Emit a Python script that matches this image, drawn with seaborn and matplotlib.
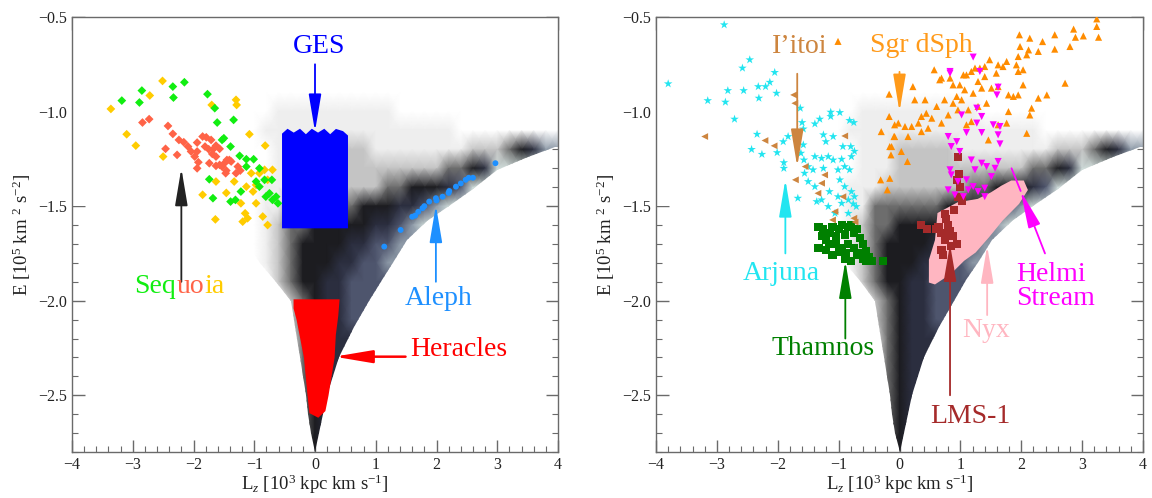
import numpy as np
import pandas as pd
import matplotlib
matplotlib.use("Agg")
import matplotlib.pyplot as plt
import seaborn as sns
from matplotlib.colors import LinearSegmentedColormap
from matplotlib.patches import Polygon
from matplotlib.ticker import MultipleLocator
from matplotlib.transforms import offset_copy

# ---------------- background density ----------------
LZ_KNOTS = np.linspace(-4.0, 4.0, 41)          # 0.2 steps
E_KNOTS = np.linspace(-0.5, -2.8, 24)          # 0.1 steps, top to bottom
DENSITY_RLE = [
    "41:0",
    "14:0 23:1 4:0",
    "12:0 25:1 4:0",
    "12:0 26:1 3:0",
    "13:0 25:1 3:0",
    "14:0 3:1 10:2 10:1 4:0",
    "13:0 3:1 16:2 6:1 3:0",
    "13:0 4:1 3:2 5:3 8:2 3:3 1:4 1:5 1:6 2:8",
    "13:0 4:1 3:2 11:3 2:4 1:5 1:6 6:9",
    "12:0 4:1 3:2 7:3 2:4 3:5 1:6 1:7 8:9",
    "12:0 4:1 2:2 6:4 3:5 2:6 1:7 1:8 10:9",
    "13:0 3:1 1:2 1:3 2:4 5:5 2:6 1:7 1:8 12:9",
    "14:0 2:1 1:2 1:3 1:4 4:5 2:6 2:7 14:8",
    "15:0 1:1 1:2 1:3 1:4 3:5 2:6 2:7 15:8",
    "16:0 1:1 1:3 1:4 2:5 2:6 18:7",
    "17:0 1:1 1:3 1:4 1:5 2:6 18:7",
    "18:0 1:3 1:4 1:5 2:6 18:7",
    "18:0 1:2 1:4 1:5 20:6",
    "18:0 1:1 1:4 1:5 20:6",
    "19:0 1:4 1:5 20:6",
    "19:0 1:4 1:5 20:6",
    "19:0 1:4 1:5 20:6",
    "19:0 1:4 1:5 20:6",
    "19:0 2:5 20:6",
]
LEVEL_COLORS = ["#ffffff", "#ffffff", "#eeeeee", "#c4c4c4", "#6c6c6c",
                "#1c1c20", "#2b2e3f", "#4d536c", "#8c98a6", "#cfdbd9"]

# circular-orbit envelope (right edge of the distribution)
ENV_LZ = [0.0, 0.07, 0.2, 0.4, 0.65, 0.89, 1.1, 1.3, 1.52, 1.85, 2.2, 2.6, 3.0, 3.5, 3.95]
ENV_E = [-2.8, -2.7, -2.5, -2.3, -2.14, -2.0, -1.89, -1.79, -1.68, -1.58, -1.50, -1.41, -1.31, -1.24, -1.19]
# left edge of the dense funnel (top to bottom)
EDGE_LZ = [-1.6, -1.3, -1.1, -0.9, -0.64, -0.4, -0.35, -0.3, -0.25, -0.2, -0.15, -0.12, -0.07, 0.0]
EDGE_E = [-1.5, -1.6, -1.7, -1.8, -1.9, -2.0, -2.1, -2.2, -2.3, -2.4, -2.5, -2.6, -2.7, -2.8]

# ---------------- left panel groups ----------------
GES_LZ = [-0.52, -0.52, -0.45, -0.35, -0.25, -0.15, -0.05, 0.05, 0.15, 0.25, 0.35, 0.45, 0.52, 0.52]
GES_E = [-1.61, -1.12, -1.10, -1.12, -1.10, -1.13, -1.10, -1.12, -1.10, -1.13, -1.10, -1.11, -1.13, -1.61]

HER_LZ = [-0.33, 0.38, 0.36, 0.32, 0.30, 0.25, 0.20, 0.15, 0.05, -0.07, -0.10, -0.13, -0.16, -0.22, -0.28, -0.33]
HER_E = [-2.0, -2.0, -2.08, -2.18, -2.30, -2.40, -2.50, -2.58, -2.61, -2.59, -2.50, -2.40, -2.30, -2.20, -2.10, -2.04]

ALEPH_LZ = [1.14, 1.41, 1.60, 1.77, 1.88, 1.99, 2.10, 2.21, 2.32, 2.48, 2.53, 2.97, 1.65, 1.70, 1.80, 2.00, 2.20, 2.40, 2.60]
ALEPH_E = [-1.714, -1.626, -1.556, -1.511, -1.476, -1.458, -1.45, -1.42, -1.397, -1.361, -1.35, -1.273,
           -1.55, -1.53, -1.50, -1.47, -1.43, -1.38, -1.35]

SEQ_GOLD_LZ = [-3.36, -3.10, -2.95, -2.72, -2.51, -2.50, -1.70, -1.30, -1.29, -1.08, -0.82, -1.85, -1.63,
               -1.64, -1.46, -1.33, -1.22, -1.15, -1.13, -1.05, -1.02, -0.97, -0.915, -0.83, -0.78, -0.86,
               -0.97, -1.19, -1.11, -0.78, -0.70]
SEQ_GOLD_E = [-0.986, -1.12, -1.18, -0.915, -0.838, -1.238, -0.965, -0.938, -0.965, -1.12, -1.18, -1.44,
              -1.37, -1.57, -1.43, -1.37, -1.485, -1.538, -1.397, -1.326, -1.423, -1.485, -1.326, -1.308,
              -1.361, -1.555, -1.388, -1.582, -1.564, -1.60, -1.308]
SEQ_GREEN_LZ = [-3.18, -2.89, -2.85, -2.34, -2.33, -2.15, -1.77, -1.65, -1.61, -1.34, -1.53, -1.50, -1.39,
                -1.24, -1.13, -1.01, -0.97, -0.915, -0.83, -0.81, -0.75, -0.70, -0.64, -0.61, -1.68, -1.39,
                -1.31, -1.74, -1.13, -0.915, -0.71, -1.22]
SEQ_GREEN_E = [-0.942, -0.952, -0.889, -0.868, -0.926, -0.845, -0.908, -0.982, -1.058, -1.044, -1.15, -1.141,
               -1.185, -1.234, -1.252, -1.252, -1.37, -1.397, -1.361, -1.45, -1.432, -1.467, -1.45, -1.485,
               -1.458, -1.476, -1.467, -1.358, -1.291, -1.30, -1.361, -1.423]
SEQ_RED_LZ = [-2.84, -2.73, -2.42, -2.34, -2.46, -2.27, -2.24, -2.16, -2.09, -2.04, -1.94, -1.94, -1.92,
              -1.94, -1.85, -1.79, -1.71, -1.81, -1.75, -1.63, -1.57, -1.69, -1.63, -1.63, -1.57, -1.53,
              -1.49, -1.45, -1.41, -1.38, -1.46, -1.47, -1.30, -1.27, -1.23, -1.74, -1.67, -1.98]
SEQ_RED_E = [-1.058, -1.04, -1.076, -1.118, -1.197, -1.229, -1.15, -1.162, -1.185, -1.211, -1.164, -1.211,
             -1.268, -1.30, -1.132, -1.136, -1.15, -1.185, -1.199, -1.18, -1.197, -1.224, -1.238, -1.287,
             -1.282, -1.291, -1.273, -1.256, -1.256, -1.264, -1.312, -1.326, -1.326, -1.291, -1.312,
             -1.273, -1.197, -1.238]

# ---------------- right panel groups ----------------
ARJ_LZ = [-2.88, -3.80, -3.15, -2.86, -2.82, -2.58, -2.46, -2.56, -2.32, -2.31, -2.20, -2.13, -2.05, -2.02,
          -2.71, -2.34, -2.43, -2.26, -2.01, -1.91, -1.83, -1.90, -1.90, -1.63, -1.60, -1.58, -1.58, -1.62,
          -1.57, -1.56, -1.39, -1.31, -1.13, -0.98, -1.13, -0.82, -0.75, -1.25, -1.21, -1.09, -0.93, -0.80,
          -0.74, -1.39, -1.28, -1.17, -1.09, -0.95, -0.79, -1.50, -1.42, -1.25, -1.01, -0.90, -0.82, -1.50,
          -1.39, -1.15, -0.98, -0.90, -0.79, -0.74, -1.67, -1.36, -1.28, -1.17, -1.01, -0.95, -0.84, -0.76,
          -0.71, -0.84, -1.06]
ARJ_E = [-0.541, -0.853, -0.942, -0.95, -0.889, -0.77, -0.726, -0.889, -0.868, -0.929, -0.868, -0.845,
         -0.793, -0.903, -1.04, -1.12, -1.20, -1.226, -1.217, -1.159, -1.132, -1.27, -1.30, -0.982, -1.058,
         -1.092, -1.176, -1.22, -1.256, -1.326, -1.065, -1.04, -1.003, -1.005, -1.026, -1.047, -1.058,
         -1.123, -1.159, -1.132, -1.185, -1.185, -1.21, -1.238, -1.247, -1.238, -1.256, -1.252, -1.238,
         -1.291, -1.308, -1.30, -1.308, -1.291, -1.308, -1.37, -1.397, -1.423, -1.361, -1.397, -1.423,
         -1.45, -1.458, -1.476, -1.467, -1.502, -1.45, -1.485, -1.467, -1.488, -1.502, -1.538, -1.538]

ITOI_LZ = [-3.20, -2.21, -2.06, -1.74, -1.72, -1.55, -1.71, -1.23, -1.28, -1.34, -0.90, -0.93, -1.06, -1.10,
           -0.75, -0.73]
ITOI_E = [-1.132, -1.153, -1.181, -0.912, -0.956, -1.291, -1.361, -1.335, -1.379, -1.432, -1.129, -1.45,
          -1.529, -1.573, -1.564, -1.584]

SGR_LZ = [-1.01, -0.17, -0.17, -0.30, -0.08, -0.09, -0.16, -0.14, -0.31, -0.16, -0.20,
          3.24, 3.24, 3.27, 3.02, 2.86, 2.89, 2.80, 2.55, 2.55, 2.35, 2.28, 2.14, 1.97, 1.98, 2.12, 2.09,
          1.95, 1.92, 2.03, 1.95, 1.76, 1.70, 1.62, 1.59, 1.48, 1.40, 1.32, 1.24, 1.18, 1.10, 1.05, 1.40,
          1.29, 1.35, 1.21, 1.07, 0.99, 0.88, 0.83, 0.69, 0.57, 0.66, 0.94, 1.02, 0.88, 0.74, 0.61, 0.42,
          0.25, 0.22, 0.44, 0.53, 0.36, 0.31, 0.20, 0.09, -0.02, 0.14, 0.36, 0.47, 0.69, 0.80, 0.96, 1.13,
          1.29, 1.43, 1.51, 1.62, 1.79, 1.87, 1.95, 2.03, 2.28, 2.42, 2.17, 2.14, 1.79, 1.76, 1.62, 2.09,
          1.46, 1.10, 1.18, 2.72, 0.03, 0.13, -0.08, -0.13]
SGR_E = [-0.629, -0.908, -1.026, -1.106, -1.07, -1.132, -1.185, -1.229, -1.361, -1.353, -1.414,
         -0.51, -0.55, -0.607, -0.60, -0.564, -0.607, -0.656, -0.594, -0.67, -0.63, -0.682, -0.612, -0.594,
         -0.656, -0.674, -0.70, -0.709, -0.753, -0.779, -0.788, -0.735, -0.762, -0.753, -0.797, -0.726,
         -0.762, -0.77, -0.77, -0.788, -0.806, -0.806, -0.815, -0.841, -0.876, -0.903, -0.885, -0.859,
         -0.859, -0.823, -0.823, -0.779, -0.832, -0.92, -0.938, -0.956, -0.938, -0.973, -0.938, -0.938,
         -0.868, -1.009, -1.035, -1.026, -1.061, -1.079, -1.079, -1.061, -1.132, -1.106, -1.088, -1.061,
         -1.018, -0.991, -0.991, -0.973, -0.956, -0.876, -0.868, -0.912, -0.92, -0.912, -0.859, -0.929,
         -0.912, -0.982, -1.018, -1.0, -1.061, -1.07, -1.115, -1.15, -1.07, -1.053, -0.85, -1.211,
         -1.264, -1.132, -1.185]

HELMI_LZ = [1.21, 0.83, 1.32, 1.62, 1.60, 1.02, 1.27, 1.35, 1.27, 1.10, 1.35, 1.54, 1.65, 1.62, 1.65, 0.80,
            0.85, 0.94, 0.99, 1.18, 1.35, 1.24, 1.43, 1.57, 1.62, 0.83, 0.85, 0.96, 1.10, 1.21, 1.29, 1.40,
            1.51, 0.80, 0.91, 1.05, 1.13, 1.40, 0.83]
HELMI_E = [-0.712, -0.788, -0.788, -0.871, -0.912, -1.018, -0.982, -1.026, -1.061, -1.111, -1.111, -1.07,
           -1.079, -1.123, -1.171, -1.132, -1.185, -1.159, -1.211, -1.256, -1.273, -1.308, -1.291, -1.30,
           -1.264, -1.308, -1.335, -1.37, -1.361, -1.397, -1.423, -1.405, -1.344, -1.414, -1.441, -1.45,
           -1.414, -1.45, -0.797]

NYX_LZ = [0.64, 0.96, 1.29, 1.51, 1.68, 1.84, 2.03, 2.09, 1.95, 1.68, 1.46, 1.24, 1.05, 0.83, 0.58, 0.50,
          0.50, 0.60]
NYX_E = [-1.54, -1.485, -1.467, -1.432, -1.397, -1.37, -1.37, -1.414, -1.485, -1.573, -1.66, -1.741,
         -1.785, -1.855, -1.908, -1.90, -1.785, -1.68]

LMS_LZ = [0.96, 0.94, 0.99, 0.96, 1.02, 0.98, 0.75, 0.77, 0.83, 0.69, 0.64, 0.75, 0.85, 0.69, 0.94, 0.80,
          0.88, 0.72, 0.60, 0.45, 0.35, 0.90, 0.78]
LMS_E = [-1.24, -1.36, -1.40, -1.45, -1.47, -1.33, -1.54, -1.57, -1.63, -1.64, -1.61, -1.68, -1.71, -1.73,
         -1.70, -1.60, -1.66, -1.76, -1.62, -1.62, -1.60, -1.52, -1.65]

THAM_LZ = [-1.33, -1.28, -1.25, -1.33, -1.20, -1.15, -1.10, -1.05, -1.00, -0.95, -0.90, -0.85, -0.80, -0.75,
           -0.70, -0.65, -0.60, -0.55, -0.50, -0.45, -0.60, -0.70, -0.80, -0.90, -1.00, -1.10, -1.20, -1.05,
           -0.95, -0.85, -0.75, -0.65, -0.55, -0.27, -1.15, -0.88]
THAM_E = [-1.61, -1.66, -1.62, -1.72, -1.68, -1.64, -1.61, -1.66, -1.62, -1.60, -1.65, -1.61, -1.60, -1.64,
          -1.62, -1.67, -1.70, -1.74, -1.77, -1.79, -1.78, -1.76, -1.79, -1.78, -1.74, -1.76, -1.73, -1.70,
          -1.72, -1.70, -1.72, -1.75, -1.79, -1.79, -1.70, -1.75]

SEQUOIA_PARTS = ["Seq", "uo", "ia"]
SEQUOIA_COLORS = ["#11ee11", "#ff6347", "#ffcc00"]

# ---------------- style ----------------
sns.set_style("ticks")
plt.rcParams["font.family"] = ["Liberation Serif", "DejaVu Serif"]
plt.rcParams["mathtext.fontset"] = "custom"
plt.rcParams["mathtext.rm"] = "Liberation Serif"
plt.rcParams["mathtext.it"] = "Liberation Serif:italic"
plt.rcParams["axes.edgecolor"] = "#6a6a6a"

fig = plt.figure(figsize=(11.52, 4.98), dpi=100)
bottom = 1 - 452 / 498
height = 435 / 498
ax1 = fig.add_axes([72 / 1152, bottom, 486 / 1152, height])
ax2 = fig.add_axes([656 / 1152, bottom, 487 / 1152, height])

def decode(rle):
    vals = []
    for tok in rle.split():
        n, v = tok.split(":")
        vals += [int(v)] * int(n)
    assert len(vals) == 41, rle
    return vals

Z = np.array([decode(r) for r in DENSITY_RLE], dtype=float)
cmap = LinearSegmentedColormap.from_list("halo", LEVEL_COLORS, N=256)

def background(ax):
    mesh = ax.pcolormesh(LZ_KNOTS, E_KNOTS, Z, shading="gouraud", cmap=cmap, vmin=0, vmax=9,
                         zorder=1, rasterized=True)
    verts = list(zip(ENV_LZ, ENV_E)) + [(4.0, -1.19), (4.0, -0.5), (-4.0, -0.5), (-4.0, -1.5)] \
        + list(zip(EDGE_LZ, EDGE_E))
    clip = Polygon(verts, closed=True, transform=ax.transData)
    mesh.set_clip_path(clip)

def style(ax):
    ax.set_xlim(-4, 4)
    ax.set_ylim(-2.8, -0.5)
    ax.xaxis.set_major_locator(MultipleLocator(1))
    ax.xaxis.set_minor_locator(MultipleLocator(0.2))
    ax.yaxis.set_major_locator(MultipleLocator(0.5))
    ax.yaxis.set_minor_locator(MultipleLocator(0.1))
    ax.tick_params(which="both", direction="in", top=True, right=True, color="#6a6a6a",
                   labelsize=11.5, labelcolor="#222222")
    ax.tick_params(which="major", length=9, width=1)
    ax.tick_params(which="minor", length=4.5, width=0.8)
    ax.set_yticks([-0.5, -1.0, -1.5, -2.0, -2.5])
    ax.set_yticklabels(["\u22120.5", "\u22121.0", "\u22121.5", "\u22122.0", "\u22122.5"])
    ax.set_xlabel(r"L$_z$ [10$^3$ kpc km s$^{-1}$]", fontsize=13.5, color="#222222", labelpad=0)
    ax.set_ylabel(r"E [10$^5$ km $^2$ s$^{-2}$]", fontsize=13.5, color="#222222", labelpad=4)
    for s in ax.spines.values():
        s.set_linewidth(1)

def arrow(ax, tail, tip, color, lw=1.3):
    ax.annotate("", xy=tip, xytext=tail, zorder=6,
                arrowprops=dict(arrowstyle="-|>,head_length=1.9,head_width=0.32", color=color,
                                lw=lw, shrinkA=0, shrinkB=0, mutation_scale=12))

def label(ax, x, y, s, color, **kw):
    ax.text(x, y, s, color=color, fontsize=20, ha="center", va="center", zorder=6, **kw)

def scat(ax, lz, e, marker, s, color, ec="none", z=3):
    df = pd.DataFrame({"Lz": lz, "E": e})
    sns.scatterplot(data=df, x="Lz", y="E", marker=marker, s=s, color=color, edgecolor=ec,
                    linewidth=0, ax=ax, zorder=z, legend=False)

# ---------------- left panel ----------------
background(ax1)
ax1.add_patch(Polygon(list(zip(GES_LZ, GES_E)), closed=True, fc="#0000ff", ec="#0000ff", lw=2, zorder=3))
ax1.add_patch(Polygon(list(zip(HER_LZ, HER_E)), closed=True, fc="#ff0000", ec="#ff0000", lw=2, zorder=3))
scat(ax1, ALEPH_LZ, ALEPH_E, "o", 18, "#1e90ff")
scat(ax1, SEQ_GOLD_LZ, SEQ_GOLD_E, "D", 20, "#ffcc00")
scat(ax1, SEQ_GREEN_LZ, SEQ_GREEN_E, "D", 20, "#11ee11")
scat(ax1, SEQ_RED_LZ, SEQ_RED_E, "D", 20, "#ff6347")

label(ax1, 0.07, -0.656, "GES", "#0000ff")
arrow(ax1, (0.0, -0.75), (0.0, -1.105), "#0000ff")
arrow(ax1, (-2.2, -1.90), (-2.2, -1.30), "#222222")
arrow(ax1, (1.99, -1.90), (1.99, -1.495), "#1e90ff")
label(ax1, 2.04, -1.987, "Aleph", "#1e90ff")
arrow(ax1, (1.49, -2.296), (0.32, -2.296), "#ff0000", lw=1.8)
label(ax1, 2.37, -2.26, "Heracles", "#ff0000")

# multicoloured "Sequoia": each piece placed after the measured width of the text before it
renderer = fig.canvas.get_renderer()
x0, y0 = -2.97, -1.961
prefix = ""
for part, col in zip(SEQUOIA_PARTS, SEQUOIA_COLORS):
    if prefix:
        probe = ax1.text(x0, y0, prefix, fontsize=20)
        dx = probe.get_window_extent(renderer=renderer).width
        probe.remove()
    else:
        dx = 0.0
    tr = offset_copy(ax1.transData, fig=fig, x=dx, y=0, units="dots")
    ax1.text(x0, y0, part, color=col, fontsize=20, ha="left", va="baseline", transform=tr, zorder=6)
    prefix += part
style(ax1)

# ---------------- right panel ----------------
background(ax2)
ax2.add_patch(Polygon(list(zip(NYX_LZ, NYX_E)), closed=True, fc="#ffb6c1", ec="#ffb6c1", lw=1.5, zorder=3))
scat(ax2, LMS_LZ, LMS_E, "s", 34, "#a52a2a", z=4)
scat(ax2, THAM_LZ, THAM_E, "s", 34, "#008000")
scat(ax2, ARJ_LZ, ARJ_E, "*", 42, "#22e5f0")
scat(ax2, ITOI_LZ, ITOI_E, "<", 24, "#cd853f")
scat(ax2, SGR_LZ, SGR_E, "^", 26, "#ff8c00")
scat(ax2, HELMI_LZ, HELMI_E, "v", 26, "#ff00ff", z=4)

label(ax2, -1.64, -0.656, "I\u2019itoi", "#cd853f")
arrow(ax2, (-1.68, -0.80), (-1.68, -1.29), "#cd853f")
label(ax2, 0.36, -0.65, "Sgr dSph", "#ff9a1a")
arrow(ax2, (0.0, -0.79), (0.0, -1.0), "#ff9a1a")
label(ax2, -1.94, -1.855, "Arjuna", "#22e5f0")
arrow(ax2, (-1.875, -1.75), (-1.875, -1.36), "#22e5f0")
label(ax2, -1.25, -2.252, "Thamnos", "#008000")
arrow(ax2, (-0.89, -2.20), (-0.89, -1.79), "#008000")
label(ax2, 1.43, -2.155, "Nyx", "#ffb6c1")
arrow(ax2, (1.44, -2.076), (1.44, -1.71), "#ffb6c1")
label(ax2, 1.16, -2.614, "LMS-1", "#a52a2a")
arrow(ax2, (0.83, -2.50), (0.83, -1.70), "#a52a2a")
ax2.text(1.92, -1.926, "Helmi\nStream", color="#ff00ff", fontsize=20, ha="left", va="center",
         linespacing=0.95, zorder=6)
arrow(ax2, (2.39, -1.75), (1.99, -1.42), "#ff00ff")
ax2.plot([1.99, 1.84], [-1.42, -1.30], color="#ff00ff", lw=1.3, zorder=6)
style(ax2)

fig.savefig("out.png", dpi=100)
